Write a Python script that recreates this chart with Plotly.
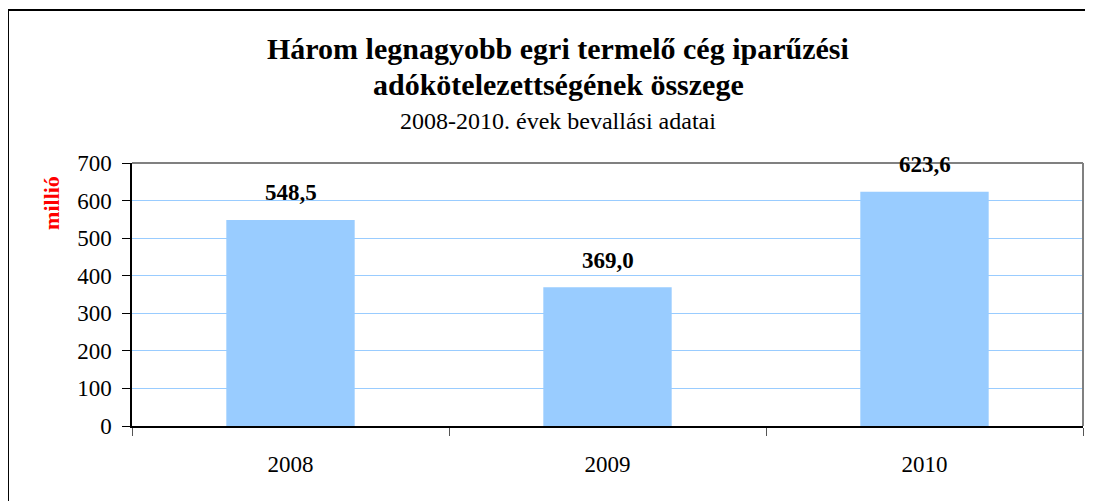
import plotly.graph_objects as go

years = ["2008", "2009", "2010"]
values = [548.5, 369.0, 623.6]
labels = ["548,5", "369,0", "623,6"]
y_ticks = [0, 100, 200, 300, 400, 500, 600, 700]

title_line1 = "Három legnagyobb egri termelő cég iparűzési"
title_line2 = "adókötelezettségének összege"
subtitle = "2008-2010. évek bevallási adatai"
y_title = "millió"

SERIF = "Liberation Serif, Times New Roman, serif"

fig = go.Figure()
fig.add_trace(go.Bar(
    x=years, y=values, width=0.405,
    marker=dict(color="#99CCFF", line=dict(width=0)),
    hoverinfo="skip",
))

annotations = []
for i, (v, lab) in enumerate(zip(values, labels)):
    # category axis: annotation x uses the category's serial index
    annotations.append(dict(
        x=i, y=v, xref="x", yref="y", text="<b>%s</b>" % lab, showarrow=False,
        yanchor="middle", yshift=27,
        font=dict(family=SERIF, size=23, color="black"),
    ))

# Title lines (paper coordinates relative to plot area)
annotations += [
    dict(x=0.448, y=1.437, xref="paper", yref="paper", text="<b>%s</b>" % title_line1,
         showarrow=False, xanchor="center", yanchor="middle",
         font=dict(family=SERIF, size=30, color="black")),
    dict(x=0.448, y=1.300, xref="paper", yref="paper", text="<b>%s</b>" % title_line2,
         showarrow=False, xanchor="center", yanchor="middle",
         font=dict(family=SERIF, size=30, color="black")),
    dict(x=0.448, y=1.160, xref="paper", yref="paper", text=subtitle,
         showarrow=False, xanchor="center", yanchor="middle",
         font=dict(family=SERIF, size=24, color="black")),
    dict(x=-0.0842, y=0.848, xref="paper", yref="paper", text="<b>%s</b>" % y_title,
         showarrow=False, xanchor="center", yanchor="middle", textangle=-90,
         font=dict(family=SERIF, size=22, color="#FF0000")),
]

shapes = [
    # outer chart border (left and top, extends beyond the window)
    dict(type="line", xref="paper", yref="paper", x0=-0.1304, y0=1.5817, x1=-0.1304, y1=-0.5,
         line=dict(color="black", width=2)),
    dict(type="line", xref="paper", yref="paper", x0=-0.1304, y0=1.5817, x1=1.1, y1=1.5817,
         line=dict(color="black", width=2)),
    # plot area border top / right
    dict(type="line", xref="paper", yref="paper", x0=0, y0=1, x1=1, y1=1,
         line=dict(color="#808080", width=2)),
    dict(type="line", xref="paper", yref="paper", x0=1, y0=0, x1=1, y1=1,
         line=dict(color="#808080", width=2)),
]

fig.update_layout(
    width=1085, height=493,
    margin=dict(l=124, r=10, t=155, b=75, autoexpand=False),
    paper_bgcolor="white", plot_bgcolor="white",
    showlegend=False,
    annotations=annotations,
    shapes=shapes,
    xaxis=dict(
        type="category", tickson="boundaries", ticks="outside", ticklen=8,
        tickcolor="#555555", showline=True, linecolor="black", linewidth=2,
        showgrid=False, tickfont=dict(family=SERIF, size=23, color="black"),
        ticklabelstandoff=16, fixedrange=True, automargin=False,
        range=[-0.5, 2.5], tickangle=0,
    ),
    yaxis=dict(
        range=[0, 700], tickvals=y_ticks, ticks="outside", ticklen=8,
        tickcolor="black", showline=True, linecolor="black", linewidth=1.5,
        showgrid=True, gridcolor="#99CCFF", gridwidth=1, zeroline=False,
        tickfont=dict(family=SERIF, size=23, color="black"), fixedrange=True,
        automargin=False, ticklabelstandoff=6,
    ),
)

fig.write_html("out.html")
